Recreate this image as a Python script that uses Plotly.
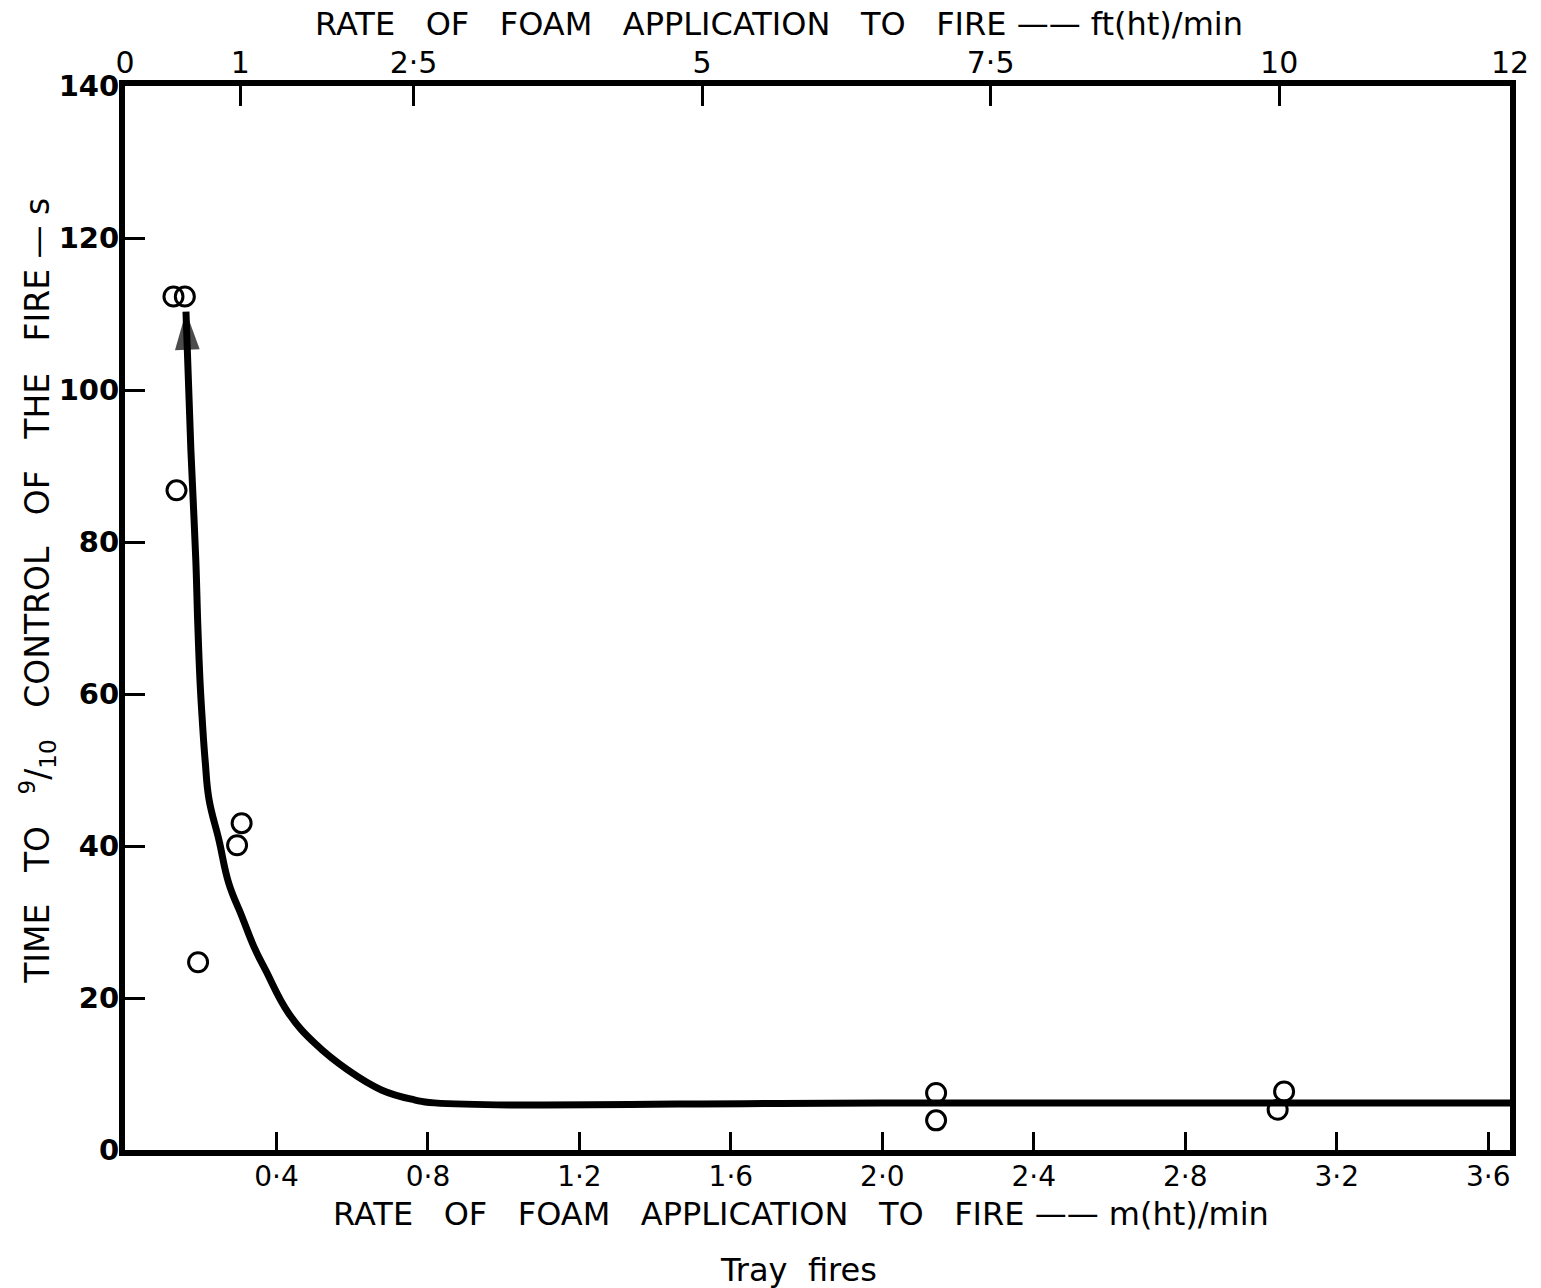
import plotly.graph_objects as go

# ---- data ----
M_TO_FT = 3.28084
X_MAX_FT = 12.0
X_MAX_M = X_MAX_FT / M_TO_FT

# observed points: rate (m(ht)/min) vs time to 9/10 control (s)
obs_rate = [0.128, 0.158, 0.136, 0.193, 0.296, 0.308, 2.142, 2.142, 3.061, 3.044]
obs_time = [112.3, 112.3, 86.8, 24.7, 40.1, 43.0, 7.5, 3.9, 7.7, 5.3]

# fitted curve (drawn from lower-right up to the arrow tip)
curve_rate = [X_MAX_M, 2.0, 0.817, 0.764, 0.677, 0.589, 0.502, 0.432, 0.371, 0.340,
              0.309, 0.274, 0.248, 0.222, 0.212, 0.204, 0.198, 0.192, 0.187, 0.174, 0.161]
curve_time = [6.2, 6.2, 6.2, 6.6, 7.9, 10.5, 14.0, 18.0, 23.7, 26.8,
              30.7, 35.1, 40.8, 46.1, 51.0, 56.6, 61.8, 69.5, 77.6, 92.1, 110.3]

bottom_ticks = [0.4, 0.8, 1.2, 1.6, 2.0, 2.4, 2.8, 3.2, 3.6]
bottom_ticktext = ["0·4", "0·8", "1·2", "1·6", "2·0", "2·4", "2·8", "3·2", "3·6"]
top_ticks = [0, 1, 2.5, 5, 7.5, 10, 12]
top_ticktext = ["0", "1", "2·5", "5", "7·5", "10", "12"]
y_ticks = [0, 20, 40, 60, 80, 100, 120, 140]

FONT = "DejaVu Sans"
NB = "\u00a0"
G = NB * 3

fig = go.Figure()

# curve
fig.add_trace(go.Scatter(
    x=curve_rate, y=curve_time, mode="lines",
    line=dict(color="black", width=7, shape="spline", smoothing=1.2),
    hoverinfo="skip", showlegend=False))

# arrow head at the top end of the curve
fig.add_trace(go.Scatter(
    x=curve_rate[-2:], y=curve_time[-2:], mode="markers",
    marker=dict(symbol="arrow", angleref="previous", size=[0, 40],
                color="black", line=dict(width=0)),
    hoverinfo="skip", showlegend=False))

# observations
fig.add_trace(go.Scatter(
    x=obs_rate, y=obs_time, mode="markers",
    marker=dict(symbol="circle-open", size=19, color="black",
                line=dict(width=3, color="black")),
    showlegend=False))

# dummy trace on top axis
fig.add_trace(go.Scatter(x=[0, X_MAX_FT], y=[None, None], xaxis="x2",
                         mode="markers", showlegend=False, hoverinfo="skip"))

fig.update_layout(
    width=1541, height=1288,
    margin=dict(l=125, r=23, t=86, b=138),
    paper_bgcolor="white", plot_bgcolor="white",
    font=dict(family=FONT, color="black"),
    xaxis=dict(range=[0, X_MAX_M], showgrid=False, zeroline=False,
               showline=True, linewidth=6, linecolor="black",
               ticks="inside", ticklen=18, tickwidth=3, tickcolor="black",
               tickvals=bottom_ticks, ticktext=bottom_ticktext,
               ticklabelstandoff=-4,
               tickfont=dict(size=28, family=FONT)),
    xaxis2=dict(range=[0, X_MAX_FT], overlaying="x", side="top",
                showgrid=False, zeroline=False,
                showline=True, linewidth=6, linecolor="black",
                ticks="inside", ticklen=20, tickwidth=3, tickcolor="black",
                tickvals=top_ticks, ticktext=top_ticktext,
                ticklabelstandoff=-5,
                tickfont=dict(size=30, family=FONT)),
    yaxis=dict(range=[0, 140], showgrid=False, zeroline=False,
               showline=True, linewidth=6, linecolor="black", mirror=True,
               ticks="inside", ticklen=20, tickwidth=3, tickcolor="black",
               tickvals=y_ticks, ticklabelstandoff=-6,
               tickfont=dict(size=29, family=FONT, weight="bold")),
)

fig.add_annotation(
    xref="paper", yref="paper", x=0.488, y=-0.0601, yanchor="middle",
    text=f"RATE{G}OF{G}FOAM{G}APPLICATION{G}TO{G}FIRE{NB}——{NB}m(ht)/min",
    showarrow=False, font=dict(size=32, family=FONT))
fig.add_annotation(
    xref="paper", yref="paper", x=0.486, y=-0.1128, yanchor="middle",
    text=f"Tray{NB*2}fires", showarrow=False, font=dict(size=32, family=FONT))
fig.add_annotation(
    xref="paper", yref="paper", x=0.472, y=1.0583, yanchor="middle",
    text=f"RATE{G}OF{G}FOAM{G}APPLICATION{G}TO{G}FIRE{NB}——{NB}ft(ht)/min",
    showarrow=False, font=dict(size=32, family=FONT))
fig.add_annotation(
    xref="paper", yref="paper", x=-0.0632, y=0.526, xanchor="center", yanchor="middle",
    textangle=-90,
    text=f"TIME{G}TO{G}<sup>9</sup>/<sub>10</sub>{G}CONTROL{G}OF{G}THE{G}FIRE{NB}—{NB}s",
    showarrow=False, font=dict(size=33, family=FONT))

fig.write_html("out.html")
